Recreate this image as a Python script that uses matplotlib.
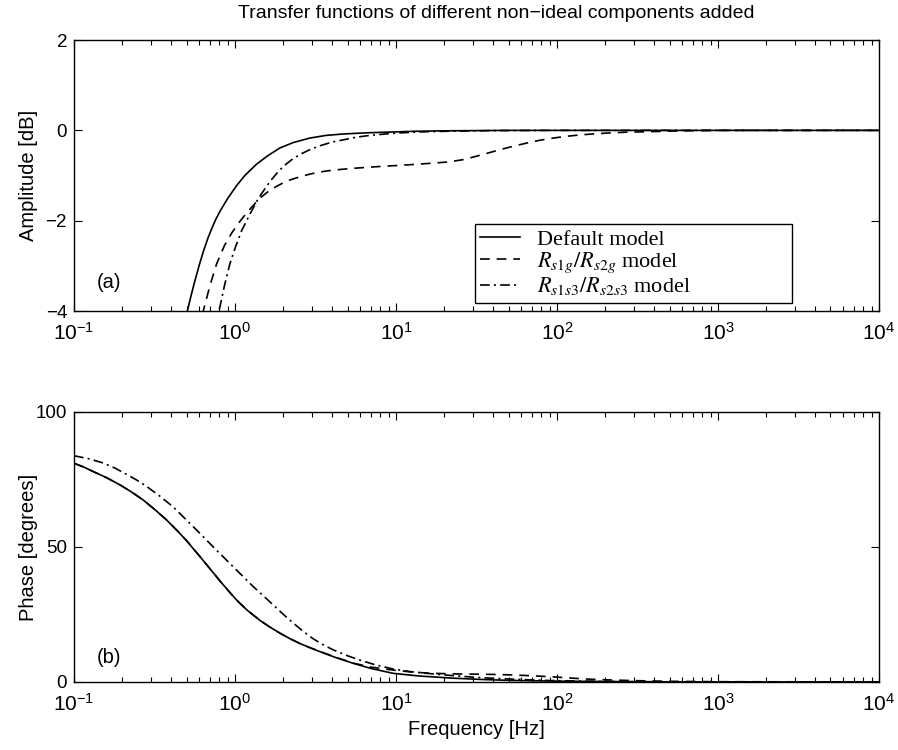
import matplotlib
matplotlib.use("Agg")
import matplotlib.pyplot as plt
from matplotlib.ticker import LogLocator, NullFormatter

plt.rcParams["font.family"] = ["Liberation Sans", "DejaVu Sans"]
plt.rcParams["mathtext.fontset"] = "custom"
plt.rcParams["mathtext.rm"] = "Liberation Sans"
plt.rcParams["lines.scale_dashes"] = False

# Amplitude responses [dB]
f_amp_default = [0.47, 0.506, 0.53, 0.56, 0.60, 0.635, 0.68, 0.72, 0.76, 0.807, 0.9, 1.02, 1.15, 1.36,
                 1.6, 1.9, 2.3, 2.92, 3.7, 4.7, 6.5, 8.7, 13, 20, 50, 1e4]
amp_default = [-4.5, -4.0, -3.70, -3.37, -2.98, -2.69, -2.38, -2.16, -1.97, -1.79, -1.51, -1.23, -1.0, -0.75,
               -0.56, -0.39, -0.27, -0.17, -0.11, -0.08, -0.055, -0.04, -0.02, -0.01, 0.0, 0.0]

f_amp_rs1g = [0.60, 0.635, 0.70, 0.77, 0.86, 0.955, 1.06, 1.18, 1.3, 1.43, 1.6, 1.81, 2.1, 2.42, 2.9,
              3.38, 4.07, 5.43, 7.9, 11.1, 16.3, 21, 26, 31, 36.6, 44, 53.6, 65, 78, 95, 115, 140,
              166, 204, 270, 360, 600, 1000, 1e4]
amp_rs1g = [-4.45, -4.0, -3.43, -2.95, -2.55, -2.27, -2.04, -1.83, -1.66, -1.50, -1.36, -1.24, -1.12, -1.05, -0.97,
            -0.92, -0.88, -0.84, -0.80, -0.77, -0.73, -0.70, -0.65, -0.58, -0.51, -0.43, -0.35, -0.28, -0.22, -0.17, -0.13, -0.10,
            -0.08, -0.06, -0.04, -0.03, -0.01, 0.0, 0.0]

f_amp_rs1s3 = [0.75, 0.807, 0.86, 0.93, 1.01, 1.10, 1.24, 1.40, 1.65, 1.82, 1.99, 2.25, 2.54, 2.95, 3.38,
               4.0, 4.7, 5.7, 6.9, 10, 14, 20, 40, 100, 1e4]
amp_rs1s3 = [-4.4, -3.90, -3.44, -2.95, -2.57, -2.22, -1.85, -1.50, -1.13, -0.95, -0.80, -0.65, -0.53, -0.42, -0.34,
             -0.26, -0.21, -0.15, -0.11, -0.06, -0.035, -0.02, -0.005, 0.0, 0.0]

# Phase responses [degrees]
f_ph_default = [0.1, 0.115, 0.132, 0.16, 0.193, 0.23, 0.269, 0.32, 0.376, 0.44, 0.501, 0.55, 0.607, 0.68,
                0.77, 0.807, 0.9, 1.0, 1.07, 1.2, 1.43, 1.65, 1.9, 2.2, 2.54, 2.95, 3.38, 4.2, 5.43, 7.0,
                9.6, 14, 22.7, 35, 50, 100, 300, 1000, 1e4]
ph_default = [81.0, 79.6, 77.9, 75.6, 73.0, 70.2, 67.4, 63.7, 60.0, 55.9, 52.3, 49.4, 46.4, 42.8,
              38.9, 37.4, 34.1, 31.0, 29.2, 26.4, 22.8, 20.3, 18.1, 16.0, 14.2, 12.6, 11.2, 9.1, 6.9, 5.0,
              3.2, 2.2, 1.4, 0.9, 0.6, 0.3, 0.1, 0.0, 0.0]

f_ph_rs1g = [0.1, 0.115, 0.132, 0.16, 0.193, 0.23, 0.269, 0.32, 0.376, 0.44, 0.501, 0.55, 0.607, 0.68,
             0.77, 0.807, 0.9, 1.0, 1.07, 1.2, 1.43, 1.65, 1.9, 2.2, 2.54, 2.95, 3.38, 4.2, 5.43, 7.0,
             9.6, 13, 17, 22.7, 30, 40, 53, 70, 100, 150, 200, 300, 500, 1000, 1e4]
ph_rs1g = [81.0, 79.6, 77.9, 75.6, 73.0, 70.2, 67.4, 63.7, 60.0, 55.9, 52.3, 49.4, 46.4, 42.8,
           38.9, 37.4, 34.1, 31.0, 29.2, 26.4, 22.8, 20.3, 18.1, 16.0, 14.2, 12.6, 11.3, 9.2, 7.0, 5.5,
           4.4, 3.6, 3.2, 3.0, 2.9, 2.8, 2.6, 2.3, 1.8, 1.1, 0.8, 0.5, 0.25, 0.1, 0.0]

f_ph_rs1s3 = [0.1, 0.125, 0.152, 0.18, 0.212, 0.245, 0.283, 0.34, 0.414, 0.48, 0.551, 0.64, 0.733, 0.85,
              0.977, 1.13, 1.30, 1.5, 1.73, 2.0, 2.30, 2.65, 3.06, 3.5, 4.07, 5.0, 5.97, 7.5, 9.6, 12,
              15.5, 21, 30, 42, 60, 90, 150, 300, 1000, 1e4]
ph_rs1s3 = [83.8, 82.6, 81.1, 79.2, 76.9, 74.8, 72.4, 68.9, 64.8, 61.0, 57.5, 53.6, 50.0, 46.2,
            42.6, 38.9, 35.3, 31.9, 28.5, 25.0, 21.8, 18.8, 16.0, 13.9, 11.9, 9.7, 8.1, 6.3, 4.8, 3.9,
            3.2, 2.5, 1.8, 1.3, 0.9, 0.55, 0.3, 0.1, 0.0, 0.0]

labels = ["Default model",
          r"$R_{s1g}/R_{s2g}$ model",
          r"$R_{s1s3}/R_{s2s3}$ model"]

DASHED = (0, (7, 5))
DASHDOT = (0, (7, 3, 1.5, 3))
LW = 1.2

fig = plt.figure(figsize=(8.98, 7.5), dpi=100)
ax1 = fig.add_axes([0.0824, 0.5853, 0.8964, 0.3613])
ax2 = fig.add_axes([0.0824, 0.0907, 0.8964, 0.3600])

ax1.plot(f_amp_default, amp_default, color="black", lw=LW, label=labels[0])
ax1.plot(f_amp_rs1g, amp_rs1g, color="black", lw=LW, linestyle=DASHED, label=labels[1])
ax1.plot(f_amp_rs1s3, amp_rs1s3, color="black", lw=LW, linestyle=DASHDOT, label=labels[2])

ax2.plot(f_ph_default, ph_default, color="black", lw=LW)
ax2.plot(f_ph_rs1g, ph_rs1g, color="black", lw=LW, linestyle=DASHED)
ax2.plot(f_ph_rs1s3, ph_rs1s3, color="black", lw=LW, linestyle=DASHDOT)

for ax in (ax1, ax2):
    ax.set_xscale("log")
    ax.set_xlim(0.1, 1e4)
    ax.xaxis.set_major_locator(LogLocator(base=10, numticks=10))
    ax.xaxis.set_minor_locator(LogLocator(base=10, subs=range(2, 10), numticks=20))
    ax.xaxis.set_minor_formatter(NullFormatter())
    ax.tick_params(which="both", direction="in", top=True, right=True, width=0.8)
    ax.tick_params(axis="x", which="major", labelsize=15, pad=8)
    ax.tick_params(axis="y", which="major", labelsize=13.5, pad=5)
    ax.tick_params(which="major", length=6)
    ax.tick_params(which="minor", length=3.5)
    for s in ax.spines.values():
        s.set_linewidth(1.0)

ax1.set_ylim(-4, 2)
ax1.set_yticks([-4, -2, 0, 2])
ax1.set_ylabel("Amplitude [dB]", fontsize=14.5)
ax1.yaxis.set_label_coords(-0.045, 0.5)
ax1.text(0.139, -3.37, "(a)", fontsize=14.5, va="center", ha="left")

ax2.set_ylim(0, 100)
ax2.set_yticks([0, 50, 100])
ax2.set_ylabel("Phase [degrees]", fontsize=14.5)
ax2.yaxis.set_label_coords(-0.045, 0.5)
ax2.set_xlabel("Frequency [Hz]", fontsize=14.5)
ax2.xaxis.set_label_coords(0.5, -0.14)
ax2.text(0.139, 8.9, "(b)", fontsize=14.5, va="center", ha="left")

leg = ax1.legend(loc="lower left", bbox_to_anchor=(0.498, 0.0295, 0.394, 0.229), mode="expand",
                 fancybox=False, edgecolor="black", framealpha=1, handlelength=1.8,
                 handletextpad=0.75, borderpad=0.25, labelspacing=0.02, borderaxespad=0,
                 prop={"family": "Liberation Serif", "size": 16})
leg.get_frame().set_linewidth(1.0)
for t in leg.get_texts():
    t.set_math_fontfamily("stix")

fig.text(496 / 898, 1 - 13 / 750, "Transfer functions of different non\u2212ideal components added",
         ha="center", va="center", fontsize=14)

fig.savefig("out.png", dpi=100)
